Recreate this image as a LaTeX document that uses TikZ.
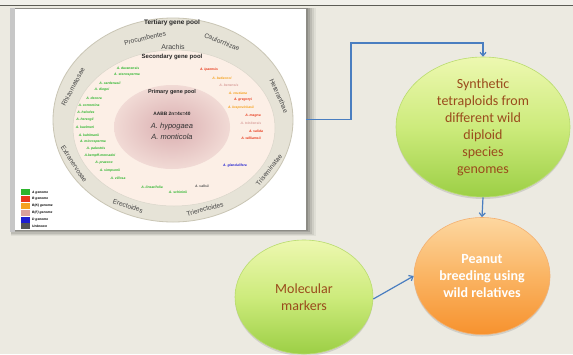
\documentclass[tikz,border=0pt]{standalone}
\usepackage{fontspec}
\setmainfont{Liberation Sans}
\newfontfamily\calib{Carlito}
\usetikzlibrary{arrows.meta,shapes.geometric,shadows}

\definecolor{pagebg}{HTML}{ECEAE1}
\definecolor{stripbg}{HTML}{F1F0EA}
\definecolor{ruleline}{HTML}{5C5C55}
\definecolor{bandfill}{HTML}{E6E3D7}
\definecolor{bandedge}{HTML}{C9C5B4}
\definecolor{peach}{HTML}{FCEFE6}
\definecolor{pinkin}{HTML}{DAAEB0}
\definecolor{pinkout}{HTML}{F1DAD5}
\definecolor{bandtext}{HTML}{444444}
\definecolor{gA}{HTML}{2DB52D}
\definecolor{gB}{HTML}{E8391B}
\definecolor{gK}{HTML}{F5A21E}
\definecolor{gF}{HTML}{D9A09C}
\definecolor{gD}{HTML}{1F1FD0}
\definecolor{gU}{HTML}{555555}
\definecolor{conn}{HTML}{4A7EC0}
\definecolor{brown}{HTML}{9A4B1C}
\definecolor{greentop}{HTML}{EDF8B0}
\definecolor{greenmid}{HTML}{CDEB7C}
\definecolor{greenbot}{HTML}{9CCF45}
\definecolor{greenedge}{HTML}{B9DC6E}
\definecolor{orangetop}{HTML}{FDD7A0}
\definecolor{orangemid}{HTML}{FAB463}
\definecolor{orangebot}{HTML}{F7922E}
\definecolor{orangeedge}{HTML}{F4B070}

\tikzset{
  sp/.style={font=\fontsize{3.4}{3.8}\selectfont\bfseries\itshape, inner sep=0pt},
  band/.style={font=\fontsize{6.6}{7}\selectfont, text=bandtext, inner sep=0pt},
  poolhead/.style={font=\bfseries, text=black!85, inner sep=0pt},
  legbox/.style={minimum width=9pt, minimum height=6pt, inner sep=0pt},
  leglab/.style={font=\fontsize{3.3}{3.6}\selectfont\bfseries\itshape, anchor=west, inner sep=0pt},
  bubble/.style={ellipse, draw, line width=0.6pt, inner sep=0pt, align=center,
     drop shadow={opacity=0.25, shadow xshift=0pt, shadow yshift=-2pt}},
  greenbub/.style={bubble, draw=greenedge, top color=greentop, bottom color=greenbot,
     middle color=greenmid, text=brown, font=\calib\fontsize{14}{17}\selectfont},
  orangebub/.style={bubble, draw=orangeedge, top color=orangetop, bottom color=orangebot,
     middle color=orangemid, text=white, font=\calib\bfseries\fontsize{14}{17}\selectfont},
  link/.style={draw=conn, line width=1.2pt, -{Straight Barb[length=3.5pt,width=6pt]}},
}

\begin{document}
\begin{tikzpicture}[x=1pt,y=-1pt]
\useasboundingbox (0,0) rectangle (573,354);
% page background and header rule
\fill[pagebg] (0,0) rectangle (573,354);
\fill[stripbg] (0,0) rectangle (573,5);
\draw[ruleline, line width=1.4pt] (0,5.6) -- (573,5.6);

% soft shadow behind the figure panel
\foreach \d/\o in {10/0.05,8/0.07,6/0.09,4/0.12,2/0.15}{
  \fill[black, opacity=\o] (11,8) rectangle (306+\d,230+0.6*\d);
}
\fill[black!22] (10,8) rectangle (15,232);
\node[draw=none, fill=white, minimum width=291pt, minimum height=221pt, inner sep=0pt]
  (panel) at (160.5,119.5) {};

% gene pool rings
\draw[bandedge, line width=0.8pt, fill=bandfill] (173,120) ellipse [x radius=120, y radius=102];
\draw[bandedge!70, line width=0.5pt, fill=peach] (174,128) ellipse [x radius=101, y radius=78];
\shade[inner color=pinkin, outer color=pinkout] (172,127) ellipse [x radius=58, y radius=42];

% ring headings
\node[poolhead, font=\fontsize{6.5}{7}\selectfont\bfseries] (tert) at (172,23) {Tertiary gene pool};
\node[band, font=\fontsize{7}{8}\selectfont] (arachis) at (173,47) {Arachis};
\node[poolhead, font=\fontsize{6}{7}\selectfont\bfseries] (sec) at (172,57) {Secondary gene pool};
\node[poolhead, font=\fontsize{5.5}{6}\selectfont\bfseries] (prim) at (172,92) {Primary gene pool};
\node[poolhead, font=\fontsize{4.8}{5}\selectfont\bfseries] (aabb) at (172,114) {AABB 2n=4x=40};
\node[inner sep=0pt, font=\fontsize{7.5}{8}\selectfont\itshape, text=black!80] (hyp) at (172,127) {A. hypogaea};
\node[inner sep=0pt, font=\fontsize{7.5}{8}\selectfont\itshape, text=black!80] (mont) at (172,137) {A. monticola};

% section names in the outer ring
\node[band, rotate=13]  (procum) at (145,38)  {Procumbentes};
\node[band, rotate=-22] (caulo)  at (222,42)  {Caulorrhizae};
\node[band, rotate=62]  (rhizo)  at (73,87)   {Rhizomatosae};
\node[band, rotate=-66] (heter)  at (279,96)  {Heteranthae};
\node[band, rotate=-57] (extra)  at (74,164)  {Extranervosae};
\node[band, rotate=52]  (trisem) at (269,170) {Triseminatae};
\node[band, rotate=-18] (erect)  at (128,206) {Erectoides};
\node[band, rotate=15]  (trier)  at (205,209) {Trierectoides};

% A genome species
\node[sp, text=gA] (s1)  at (128,68)  {A. duranensis};
\node[sp, text=gA] (s2)  at (127,75)  {A. stenosperma};
\node[sp, text=gA] (s3)  at (110,83)  {A. cardenasii};
\node[sp, text=gA] (s4)  at (102,90)  {A. diogoi};
\node[sp, text=gA] (s5)  at (94,98)   {A. decora};
\node[sp, text=gA] (s6)  at (89,105)  {A. correntina};
\node[sp, text=gA] (s7)  at (86,112)  {A. helodes};
\node[sp, text=gA] (s8)  at (85,120)  {A. herzogii};
\node[sp, text=gA] (s9)  at (85,127)  {A. kuelmeri};
\node[sp, text=gA] (s10) at (89,135)  {A. kuhlmanii};
\node[sp, text=gA] (s11) at (93,142)  {A. microsperma};
\node[sp, text=gA] (s12) at (96,149)  {A. palustris};
\node[sp, text=gA] (s13) at (100,156) {A.kempff-mercadoi};
\node[sp, text=gA] (s14) at (104,163) {A. praecox};
\node[sp, text=gA] (s15) at (110,171) {A. simpsonii};
\node[sp, text=gA] (s16) at (118,178) {A. villosa};
\node[sp, text=gA] (s17) at (152,187) {A. linearifolia};
\node[sp, text=gA] (s18) at (178,192) {A. schininii};

% B, K, F, D and unplaced species
\node[sp, text=gB] (r1)  at (209,70)  {A. ipaensis};
\node[sp, text=gK] (r2)  at (222,78)  {A. batizocoi};
\node[sp, text=gF] (r3)  at (229,85)  {A. benensis};
\node[sp, text=gK] (r4)  at (238,93)  {A. cruziana};
\node[sp, text=gB] (r5)  at (243,100) {A. gregoryi};
\node[sp, text=gK] (r6)  at (241,108) {A. krapovickasii};
\node[sp, text=gB] (r7)  at (253,116) {A. magna};
\node[sp, text=gF] (r8)  at (251,123) {A. trinitensis};
\node[sp, text=gB] (r9)  at (256,131) {A. valida};
\node[sp, text=gB] (r10) at (251,138) {A. williamsii};
\node[sp, text=gD] (r11) at (235,166) {A. glandulifera};
\node[sp, text=gU] (r12) at (202,186) {A. vallsii};

% genome legend
\foreach \c/\t [count=\i] in {gA/A genome, gB/B genome, gK/B(K) genome, gF/B(F) genome, gD/D genome, gU/Unknown}{
  \node[legbox, fill=\c] (lb\i) at (25.5,185.5+6.8*\i) {};
  \node[leglab] (ll\i) at (32,185.5+6.8*\i) {\t};
}

% flow of bubbles
\node[greenbub, minimum width=174pt, minimum height=140pt] (synth) at (483,127)
  {Synthetic\\tetraploids from\\different wild\\diploid\\species\\genomes};
\node[orangebub, minimum width=136pt, minimum height=117pt] (peanut) at (482,276)
  {Peanut\\breeding using\\wild relatives};
\node[greenbub, minimum width=138pt, minimum height=114pt] (markers) at (304,297)
  {Molecular\\markers};

\coordinate (bend) at (351,43);
\draw[link] (panel.east) -| (bend) -| (synth.north);
\draw[link] (synth.south) -- (peanut.north);
\draw[link] (markers.east) ++(0,2) -- (peanut.west);
\end{tikzpicture}
\end{document}
